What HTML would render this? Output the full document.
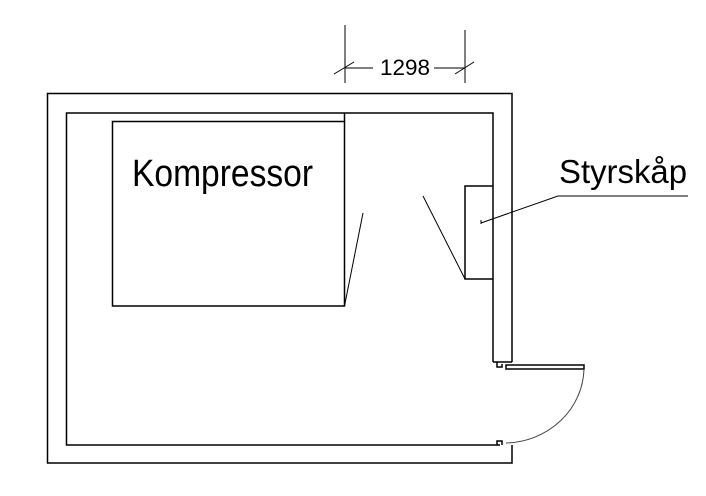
<!DOCTYPE html>
<html><head><meta charset="utf-8"><style>html,body{margin:0;padding:0;background:#fff}svg{display:block}</style></head>
<body>
<svg width="706" height="496" viewBox="0 0 706 496" xmlns="http://www.w3.org/2000/svg" font-family="Liberation Sans, Arial, sans-serif">
<g fill="none" stroke="#000" stroke-width="1.5">
<!-- outer wall -->
<polyline points="512,362 512,93.5 47.5,93.5 47.5,463 512,463 512,445"/>
<!-- inner wall -->
<polyline points="493,362 493,113 66.5,113 66.5,445 500,445"/>
<line x1="493" y1="362" x2="512" y2="362"/>
<!-- door jamb details -->
<polyline points="497,362 497,367 502,367 502,364"/>
<polyline points="497,445 497,441 502,441 502,445"/>
<!-- door leaf -->
<rect x="506" y="365" width="78" height="4"/>
<path d="M584,369 A80,76 0 0 1 506,443" stroke-width="1" stroke="#444"/>
<!-- compressor -->
<rect x="112.5" y="121.5" width="232" height="184.5"/>
<line x1="344.5" y1="113" x2="344.5" y2="121.5"/>
<line x1="344.5" y1="306" x2="363" y2="213" stroke-width="1"/>
<!-- styrskap -->
<polyline points="493,186 465,186 465,279 493,279"/>
<line x1="423" y1="196" x2="465" y2="279" stroke-width="1"/>
<polyline points="481,223 558,196 688,196" stroke-width="1"/>
<line x1="481" y1="220" x2="481" y2="224" stroke-width="1"/>
<!-- dimension -->
<line x1="345" y1="25" x2="345" y2="83" stroke-width="1"/>
<line x1="465" y1="30" x2="465" y2="83" stroke-width="1"/>
<line x1="345" y1="68" x2="373" y2="68" stroke-width="1"/>
<line x1="434" y1="68" x2="465" y2="68" stroke-width="1"/>
<line x1="334" y1="74" x2="354" y2="62" stroke-width="1"/>
<line x1="455" y1="74" x2="474" y2="62" stroke-width="1"/>
</g>
<text x="132" y="186" font-size="38" textLength="181" lengthAdjust="spacingAndGlyphs">Kompressor</text>
<text x="559" y="183" font-size="33" textLength="128" lengthAdjust="spacingAndGlyphs">Styrskåp</text>
<text x="380" y="75" font-size="22" textLength="50" lengthAdjust="spacingAndGlyphs">1298</text>
</svg>
</body></html>
